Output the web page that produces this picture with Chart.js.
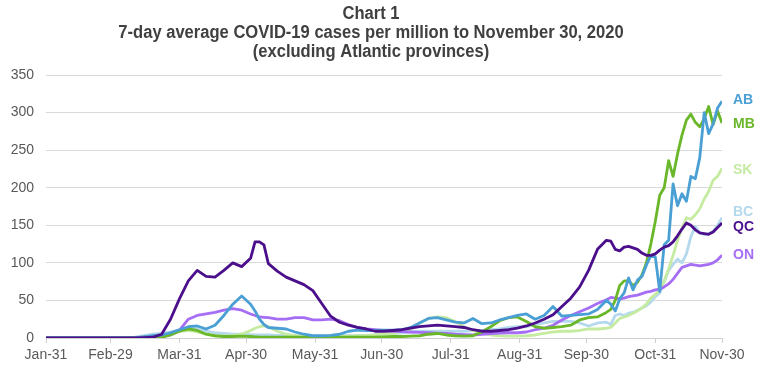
<!DOCTYPE html>
<html>
<head>
<meta charset="utf-8">
<script src="https://cdn.jsdelivr.net/npm/chart.js@4.4.0/dist/chart.umd.min.js"></script>
<style>
  html, body { margin: 0; padding: 0; background: #ffffff; }
  #wrap { width: 770px; height: 368px; position: relative; }
</style>
</head>
<body>
<div id="wrap"><canvas id="c" width="770" height="368"></canvas></div>
<script>
// Days since Jan-31, 2020
const days = [0, 20, 30, 36,
  40, 44, 48, 52, 56, 60, 64, 68, 72, 76,
  80, 84, 88, 92, 94, 96, 98, 100, 104, 108, 112, 116,
  120, 124, 128, 132, 136, 140, 144, 148, 152, 156,
  160, 164, 168, 172, 176, 180, 184, 188, 192, 196,
  200, 204, 208, 212, 216, 220, 224, 228, 232, 236,
  240, 244, 248, 252,
  254, 256, 258, 260, 262, 264, 266, 268, 270, 272,
  274, 276, 278, 280, 282, 284, 286, 288, 290, 292,
  294, 296, 298, 300, 302, 304];

const tickDays = [0, 29, 60, 90, 121, 151, 182, 213, 243, 274, 304];
const tickLabels = ['Jan-31', 'Feb-29', 'Mar-31', 'Apr-30', 'May-31', 'Jun-30', 'Jul-31', 'Aug-31', 'Sep-30', 'Oct-31', 'Nov-30'];

const titleLines = ['Chart 1', '7-day average COVID-19 cases per million to November 30, 2020', '(excluding Atlantic provinces)'];

const provinces = ['QC', 'AB', 'MB', 'ON', 'SK', 'BC'];
const colors = ['#4B0F8C', '#4A9FD4', '#6AB72A', '#A66EF5', '#C5EBA0', '#B4D8EC'];
// value on y scale where each end label sits
const labelValues = [147, 316, 285, 110, 224, 168];

const QC = [0, 0, 0, 0,
  0, 0.5, 1, 5, 25, 52, 76, 90, 82, 81,
  90, 100, 95, 106, 128, 128, 124, 99, 89, 81, 76, 71,
  63, 46, 29, 21, 17, 14, 12, 9, 9, 10,
  11, 13, 15, 16, 17, 16, 15, 14, 11, 9,
  9, 10, 11, 13, 16, 20, 25, 31, 42, 53,
  68, 90, 118, 130,
  129, 118, 116, 121, 122, 120, 118, 113, 110, 110,
  112, 117, 121, 123, 128, 136, 145, 153, 150, 144,
  140, 139, 138, 141, 147, 153];

const AB = [0, 0, 0, 0,
  0.5, 1.5, 3, 4, 7, 11, 15, 16, 12, 17,
  30, 45, 56, 45, 36, 25, 18, 14, 13, 12, 8, 5,
  3, 3, 3.5, 5, 9, 10.5, 10, 10, 10.5, 10.5,
  11, 14, 20, 26, 27, 24, 21, 20, 26, 19,
  20, 24, 27, 30, 32, 25, 30, 42, 29, 30,
  31, 32, 38, 50,
  45, 36, 52, 60, 80, 64, 77, 82, 97, 110,
  108, 62, 124, 130, 205, 176, 192, 182, 215, 212,
  240, 300, 272, 285, 306, 315];

const MB = [0, 0, 0, 0,
  0.5, 1, 1, 1, 4, 9, 12, 10, 5, 3,
  2, 2, 2.5, 2, 1.5, 1, 1, 1, 1, 1, 1, 1,
  1, 1, 1, 1, 1, 1, 1, 1, 1.5, 2,
  2, 2.5, 3, 5, 6, 4, 3, 2.5, 3, 8,
  15, 23, 27, 28, 22, 15, 13, 14, 15, 17,
  24, 27, 28, 34,
  38, 50, 70, 76, 76, 70, 74, 84, 100, 125,
  155, 190, 200, 236, 215, 245, 270, 290, 298, 287,
  281, 292, 308, 284, 302, 286];

const ON = [0, 0, 0, 0,
  0.5, 1, 1, 1.5, 4, 10, 25, 30, 32, 34,
  37, 39, 37, 32, 30, 28, 27.5, 27, 25, 25, 27, 27,
  24, 24, 25, 23, 18, 14, 12, 11, 10, 9,
  8.5, 8, 7.5, 7, 6.5, 6, 5, 4.5, 4, 5,
  6, 6.5, 7, 7, 8, 11, 13, 17, 24, 30,
  35, 40, 46, 51,
  54, 53, 52, 53, 55, 56, 57, 59, 61, 62,
  64, 65, 68, 72, 78, 86, 94, 96, 98, 97,
  96, 97, 98, 100, 104, 110];

const SK = [0, 0, 0, 0,
  0.5, 1, 2, 3, 6, 9, 10, 8, 5, 3,
  2.5, 3, 5, 10, 13, 15, 16, 15, 9, 5, 3, 2,
  2, 2, 2, 2, 2, 3, 3, 4, 5, 6,
  8, 12, 20, 26, 28, 27, 22, 15, 10, 6,
  4, 3, 2.5, 2.5, 3, 4, 6, 8, 9, 9,
  10, 12, 12, 13,
  14, 20, 26, 28, 30, 33, 36, 40, 45, 53,
  58, 64, 76, 92, 110, 130, 146, 160, 158, 164,
  172, 185, 195, 210, 215, 226];

const BC = [0, 0, 0, 0,
  1, 3, 5, 6, 8, 11, 13, 12, 9, 7,
  6, 5, 5, 4.5, 4, 4, 4, 4, 3.5, 3, 3, 3,
  2.5, 2.5, 2.5, 3, 3, 3, 3.5, 4, 5, 6,
  7, 8, 9, 9, 9, 9, 9, 9, 10, 10,
  11, 12, 14, 15, 15, 18, 20, 22, 22, 22,
  20, 16, 20, 21,
  18, 30, 32, 30, 33, 34, 37, 40, 43, 48,
  55, 60, 75, 90, 98, 105, 100, 112, 135, 148,
  140, 138, 139, 142, 150, 160];

const seriesValues = [QC, AB, MB, ON, SK, BC];

const datasets = provinces.map((p, i) => ({
  label: p,
  data: days.map((d, j) => ({ x: d, y: seriesValues[i][j] })),
  borderColor: colors[i],
  backgroundColor: colors[i],
  borderWidth: 2.8,
  pointRadius: 0,
  tension: 0,
  fill: false,
  borderJoinStyle: 'round'
}));

const titlePlugin = {
  id: 'narrowTitle',
  afterDraw(chart) {
    const ctx = chart.ctx;
    ctx.save();
    ctx.font = 'bold 18px "Liberation Sans", Arial, sans-serif';
    ctx.fillStyle = '#404040';
    ctx.textAlign = 'center';
    ctx.textBaseline = 'middle';
    const cx = 371;
    titleLines.forEach((line, i) => {
      ctx.save();
      ctx.translate(cx, 14 + i * 19);
      ctx.scale(0.92, 1);
      ctx.fillText(line, 0, 0);
      ctx.restore();
    });
    ctx.restore();
  }
};

const endLabels = {
  id: 'endLabels',
  afterDatasetsDraw(chart) {
    const ctx = chart.ctx;
    const y = chart.scales.y;
    const x0 = chart.chartArea.right + 11;
    ctx.save();
    ctx.font = 'bold 14px "Liberation Sans", Arial, sans-serif';
    ctx.textAlign = 'left';
    ctx.textBaseline = 'middle';
    provinces.forEach((p, i) => {
      ctx.fillStyle = colors[i];
      ctx.fillText(p, x0, y.getPixelForValue(labelValues[i]));
    });
    ctx.restore();
  }
};

new Chart(document.getElementById('c'), {
  type: 'line',
  data: { datasets },
  plugins: [endLabels, titlePlugin],
  options: {
    responsive: false,
    animation: false,
    devicePixelRatio: 1,
    layout: { padding: { left: 0, right: 48, top: 75, bottom: 0 } },
    plugins: {
      legend: { display: false },
      tooltip: { enabled: false },
      title: { display: false }
    },
    scales: {
      x: {
        type: 'linear',
        min: 0,
        max: 304,
        afterBuildTicks: (axis) => { axis.ticks = tickDays.map(v => ({ value: v })); },
        afterFit: (s) => { s.height = 30; },
        ticks: {
          autoSkip: false,
          maxRotation: 0,
          padding: 4,
          color: '#595959',
          font: { family: '"Liberation Sans", Arial, sans-serif', size: 14 },
          callback: (v) => tickLabels[tickDays.indexOf(v)]
        },
        grid: { display: true, drawOnChartArea: false, drawTicks: true, tickLength: 5, color: '#d0d0d0' },
        border: { display: true, color: '#d0d0d0', width: 1 }
      },
      y: {
        min: 0,
        max: 350,
        afterFit: (s) => { s.width = 46; },
        ticks: {
          stepSize: 50,
          padding: 12,
          color: '#595959',
          font: { family: '"Liberation Sans", Arial, sans-serif', size: 14 }
        },
        grid: { color: '#d9d9d9', drawTicks: false, lineWidth: 1 },
        border: { display: false }
      }
    }
  }
});
</script>
</body>
</html>
